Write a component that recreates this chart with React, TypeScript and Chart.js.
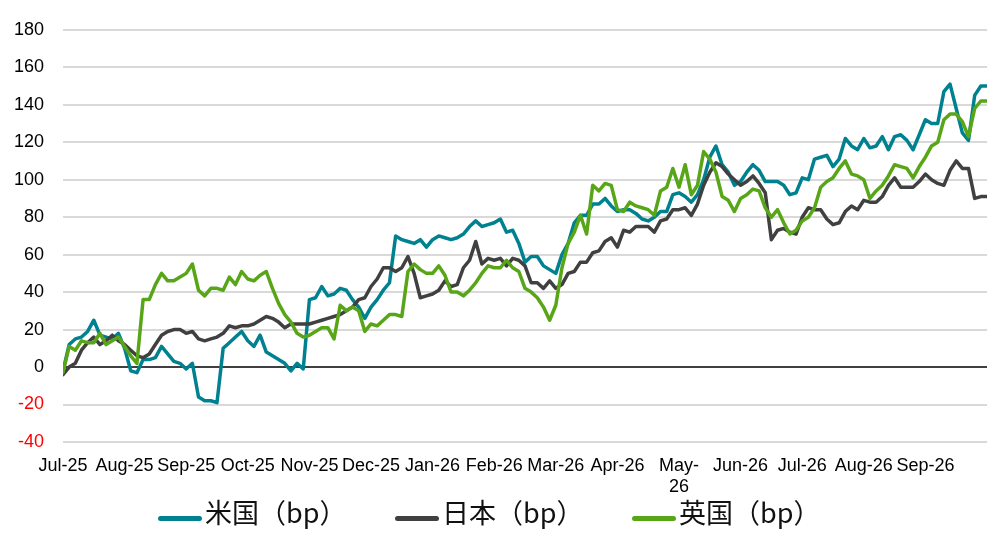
import { useEffect, useRef } from 'react';
import { Chart, registerables } from 'chart.js';

Chart.register(...registerables);

// month tick labels (May-26 wraps onto two lines in the original)
const monthTicks: (string | string[])[] = [
  'Jul-25', 'Aug-25', 'Sep-25', 'Oct-25', 'Nov-25', 'Dec-25', 'Jan-26', 'Feb-26',
  'Mar-26', 'Apr-26', ['May-', '26'], 'Jun-26', 'Jul-26', 'Aug-26', 'Sep-26',
];

const yTicks = [-40, -20, 0, 20, 40, 60, 80, 100, 120, 140, 160, 180];

const seriesNames = ['米国（bp）', '日本（bp）', '英国（bp）'];
const seriesColors = ['#008190', '#404040', '#58A618'];

// one value every 0.1 month from the start of Jul-25 (one row = one month)
const STEP = 0.1;

const usSpread = [
  -2, 12, 15, 16, 19, 25, 17, 16, 15, 18,
  10, -2, -3, 4, 4, 5, 11, 7, 3, 2,
  -1, 2, -16, -18, -18, -19, 10, 13, 16, 19,
  14, 11, 17, 8, 6, 4, 2, -2, 2, -1,
  36, 37, 43, 38, 39, 42, 41, 36, 32, 26,
  32, 36, 41, 45, 70, 68, 67, 66, 68, 64,
  68, 70, 69, 68, 69, 71, 75, 78, 75, 76,
  77, 79, 72, 73, 66, 56, 59, 59, 54, 52,
  50, 60, 66, 77, 81, 81, 87, 87, 90, 86,
  83, 84, 84, 82, 79, 78, 80, 83, 83, 92,
  93, 91, 88, 92, 100, 112, 118, 108, 104, 97,
  99, 104, 108, 105, 99, 99, 99, 97, 92, 93,
  101, 100, 111, 112, 113, 107, 111, 122, 118, 116,
  122, 117, 118, 123, 116, 123, 124, 121, 116, 124,
  132, 130, 130, 147, 151, 138, 125, 121, 145, 150,
  150,
];

const jpSpread = [
  -4, 0, 2, 9, 13, 16, 12, 14, 17, 14,
  12, 9, 6, 5, 7, 12, 17, 19, 20, 20,
  18, 19, 15, 14, 15, 16, 18, 22, 21, 22,
  22, 23, 25, 27, 26, 24, 21, 23, 23, 23,
  23, 24, 25, 26, 27, 28, 30, 32, 36, 37,
  43, 47, 53, 53, 51, 53, 59, 50, 37, 38,
  39, 41, 46, 43, 44, 53, 57, 67, 55, 58,
  57, 58, 54, 58, 57, 54, 45, 45, 42, 46,
  42, 44, 50, 51, 56, 56, 61, 62, 67, 69,
  64, 73, 72, 75, 75, 75, 72, 78, 79, 84,
  84, 85, 81, 87, 97, 104, 109, 107, 103, 100,
  97, 99, 102, 98, 93, 68, 73, 74, 72, 71,
  80, 85, 84, 84, 79, 76, 77, 83, 86, 84,
  89, 88, 88, 91, 97, 101, 96, 96, 96, 99,
  103, 100, 98, 97, 105, 110, 106, 106, 90, 91,
  91,
];

const ukSpread = [
  -3, 11, 9, 14, 13, 13, 18, 12, 14, 16,
  11, 6, 2, 36, 36, 44, 50, 46, 46, 48,
  50, 55, 41, 38, 42, 42, 41, 48, 44, 51,
  47, 46, 49, 51, 42, 34, 28, 24, 18, 16,
  17, 19, 21, 21, 15, 33, 30, 32, 30, 19,
  23, 22, 25, 28, 28, 27, 51, 55, 52, 50,
  50, 54, 49, 40, 40, 38, 41, 45, 50, 54,
  53, 53, 57, 53, 51, 42, 40, 37, 32, 25,
  33, 53, 66, 72, 81, 71, 97, 94, 98, 97,
  84, 83, 88, 86, 85, 84, 81, 94, 96, 106,
  96, 108, 92, 97, 115, 111, 104, 91, 89, 83,
  90, 92, 95, 94, 85, 80, 84, 77, 71, 73,
  78, 80, 85, 96, 99, 101, 106, 110, 103, 102,
  100, 90, 94, 97, 102, 108, 107, 106, 101, 107,
  112, 118, 120, 132, 135, 135, 131, 123, 138, 142,
  142,
];

const seriesValues = [usSpread, jpSpread, ukSpread];

const axisFont = { family: "'Liberation Sans', Arial, sans-serif", size: 18 };

export default function App() {
  const canvasRef = useRef<HTMLCanvasElement>(null);
  const chartRef = useRef<Chart | null>(null);

  useEffect(() => {
    document.body.style.margin = '0';
    if (!canvasRef.current) return;
    if (chartRef.current) chartRef.current.destroy();
    const ctx = canvasRef.current.getContext('2d');
    if (!ctx) return;

    const toPoints = (vals: number[]) => vals.map((y, i) => ({ x: i * STEP, y }));

    chartRef.current = new Chart(ctx, {
      type: 'line',
      data: {
        // the UK line sits on top, as in the original
        datasets: seriesNames.map((name, i) => ({
          label: name,
          data: toPoints(seriesValues[i]),
          borderColor: seriesColors[i],
          backgroundColor: seriesColors[i],
          order: 3 - i,
        })),
      },
      options: {
        responsive: true,
        maintainAspectRatio: false,
        animation: false,
        layout: { padding: { left: 0, right: 21, top: 23, bottom: 40 } },
        elements: {
          point: { radius: 0 },
          line: { borderWidth: 3.5, tension: 0, borderJoinStyle: 'round', borderCapStyle: 'round', fill: false },
        },
        plugins: {
          legend: { display: false },
          tooltip: { enabled: false },
        },
        scales: {
          x: {
            type: 'linear',
            min: 0,
            max: 15,
            grid: { display: false, drawTicks: false },
            border: { display: false },
            afterBuildTicks: (s: any) => {
              s.ticks = monthTicks.map((_, i) => ({ value: i }));
            },
            afterFit: (s: any) => {
              s.height = 60;
            },
            ticks: {
              autoSkip: false,
              maxRotation: 0,
              minRotation: 0,
              padding: 13,
              color: '#000',
              font: axisFont,
              callback: (_v: any, i: number) => monthTicks[i],
            },
          },
          y: {
            min: -40,
            max: 180,
            afterBuildTicks: (s: any) => {
              s.ticks = yTicks.map((v) => ({ value: v }));
            },
            afterFit: (s: any) => {
              s.width = 63;
            },
            grid: {
              color: (c: any) => (c.tick && c.tick.value === 0 ? '#404040' : '#D9D9D9'),
              lineWidth: 2,
              drawTicks: false,
            },
            border: { display: false },
            ticks: {
              padding: 19,
              color: (c: any) => (c.tick && c.tick.value < 0 ? '#FF0000' : '#000'),
              font: axisFont,
            },
          },
        },
      },
    });

    return () => {
      if (chartRef.current) {
        chartRef.current.destroy();
        chartRef.current = null;
      }
    };
  }, []);

  return (
    <div style={{ width: 1008, height: 542, position: 'relative' }}>
      <canvas ref={canvasRef}></canvas>
      <div
        style={{
          position: 'absolute',
          left: 158,
          top: 497,
          height: 30,
          display: 'flex',
          alignItems: 'center',
          fontFamily: "'Noto Sans CJK JP', sans-serif",
          fontSize: 27,
          lineHeight: '30px',
          color: '#111',
        }}
      >
        {seriesNames.map((name, i) => (
          <div key={name} style={{ display: 'flex', alignItems: 'center', width: i < 2 ? 237 : 'auto' }}>
            <span
              style={{
                display: 'inline-block',
                width: 44,
                height: 5,
                borderRadius: 3,
                background: seriesColors[i],
                marginRight: 3,
                position: 'relative',
                top: 6,
              }}
            />
            <span style={{ whiteSpace: 'nowrap' }}>{name}</span>
          </div>
        ))}
      </div>
    </div>
  );
}
